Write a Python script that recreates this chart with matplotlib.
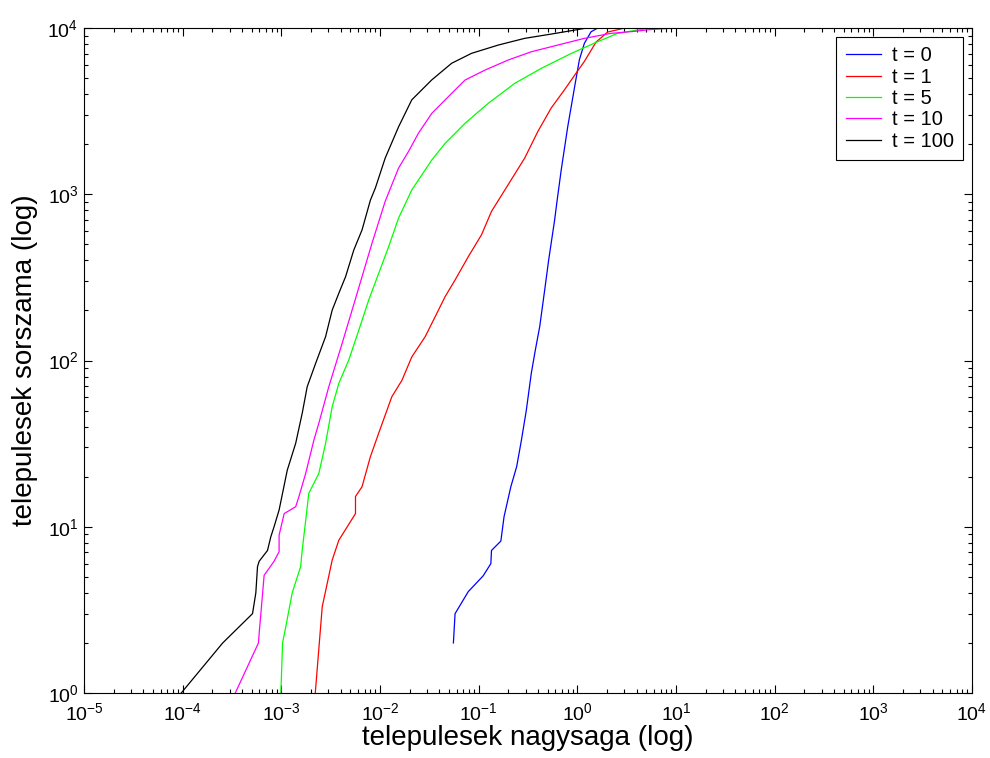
import matplotlib
matplotlib.use('Agg')
import matplotlib.pyplot as plt
from matplotlib.ticker import LogLocator, NullFormatter, FuncFormatter
import numpy as np

plt.rcParams['font.family'] = ['Liberation Sans', 'DejaVu Sans']
plt.rcParams['mathtext.fontset'] = 'custom'
plt.rcParams['mathtext.rm'] = 'Liberation Sans'

# rank-size curves (size, rank)
x_t0 = [0.0555, 0.0577, 0.0785, 0.111, 0.133, 0.135, 0.168, 0.181, 0.212, 0.243,
        0.271, 0.304, 0.342, 0.375, 0.416, 0.467, 0.512, 0.589, 0.625, 0.687,
        0.80, 0.94, 1.05, 1.18, 1.38, 1.61]
y_t0 = [2, 3, 4.07, 5.06, 6.0, 7.2, 8.2, 11.5, 17.4, 23,
        33, 50, 84, 115, 160, 265, 400, 700, 922, 1400,
        2550, 4440, 6450, 8100, 9500, 10000]

x_t1 = [0.00221, 0.0026, 0.00328, 0.00383, 0.00565, 0.00565, 0.00658, 0.0080, 0.0097,
        0.0132, 0.0167, 0.0210, 0.0287, 0.0362, 0.0457, 0.0577, 0.0785, 0.107,
        0.135, 0.199, 0.293, 0.399, 0.544, 0.743, 0.973, 1.18, 1.55, 2.03, 3.0, 4.3]
y_t1 = [1, 3.3, 6.3, 8.3, 12, 15.2, 17.4, 26.4, 36.5,
        60.6, 76, 105, 139, 183, 242, 305, 421, 571,
        789, 1141, 1651, 2391, 3305, 4257, 5360, 6300, 8240, 9460, 9990, 10000]

x_t5 = [0.00099, 0.00103, 0.00111, 0.00129, 0.00157, 0.00163, 0.00177, 0.0019, 0.0024,
        0.00281, 0.00328, 0.00383, 0.00483, 0.0061, 0.00769, 0.0097, 0.01225, 0.01545,
        0.021, 0.0335, 0.0457, 0.0728, 0.125, 0.232, 0.431, 0.866, 1.61, 2.56,
        4.08, 5.14, 6.0]
y_t5 = [1, 2, 2.5, 4, 5.75, 7.25, 11, 15.9, 20.9,
        31.7, 52.7, 72.9, 100.7, 152, 231, 334, 484, 720,
        1061, 1607, 2025, 2672, 3523, 4647, 5718, 7030, 8280, 9290,
        9730, 9950, 10000]

x_t10 = [0.000342, 0.000587, 0.000597, 0.00067, 0.000845, 0.00095, 0.00095, 0.00107,
         0.0014, 0.00151, 0.00177, 0.00214, 0.0024, 0.00303, 0.00414, 0.00522,
         0.00658, 0.0083, 0.0113, 0.01545, 0.0195, 0.0246, 0.0335, 0.0493, 0.0728,
         0.116, 0.199, 0.342, 0.635, 1.18, 2.19, 3.78, 5.56, 9.86]
y_t10 = [1, 2, 2.29, 5.1, 6.2, 7.07, 8.9, 12,
         13.2, 15.2, 21, 33.2, 41.9, 69.5, 127, 201,
         319, 507, 907, 1439, 1812, 2335, 3066, 3863, 4864,
         5586, 6420, 7200, 7900, 8670, 9290, 9550, 9800, 10000]

x_t100 = [0.0000969, 0.000255, 0.000511, 0.000552, 0.000574, 0.000597, 0.000725,
          0.000783, 0.000845, 0.00095, 0.00115, 0.0014, 0.00163, 0.00183, 0.00223,
          0.00281, 0.00328, 0.00383, 0.00448, 0.00543, 0.00658, 0.0080, 0.00898,
          0.0113, 0.01545, 0.021, 0.0335, 0.0533, 0.0848, 0.158, 0.293, 0.544,
          0.866, 1.18, 1.61]
y_t100 = [1, 2, 3, 4, 5.75, 6.2, 7.2,
          8.7, 10, 12.6, 21.9, 31.8, 48.2, 69.5, 96.2,
          139, 201, 254, 319, 462, 610, 922, 1090,
          1651, 2548, 3698, 4877, 6140, 7045, 7900, 8670, 9200,
          9640, 9950, 10000]

series = [
    (x_t0, y_t0, 'blue', 't = 0'),
    (x_t1, y_t1, 'red', 't = 1'),
    (x_t5, y_t5, '#00ff00', 't = 5'),
    (x_t10, y_t10, 'magenta', 't = 10'),
    (x_t100, y_t100, 'black', 't = 100'),
]


def pow_label(v, pos):
    e = int(round(np.log10(v)))
    return r'$\mathregular{10^{%d}}$' % e if e >= 0 else r'$\mathregular{10^{-%d}}$' % -e


fig = plt.figure(figsize=(9.9, 7.58), dpi=100)
ax = fig.add_axes([0.0848, 0.0858, 0.8970, 0.8772])

for xs, ys, color, label in series:
    ax.plot(xs, ys, color=color, linewidth=0.9, label=label)

ax.set_xscale('log')
ax.set_yscale('log')
ax.set_xlim(1e-5, 1e4)
ax.set_ylim(1, 1e4)

ax.xaxis.set_major_locator(LogLocator(base=10, numticks=20))
ax.xaxis.set_minor_locator(LogLocator(base=10, subs=range(2, 10), numticks=20))
ax.xaxis.set_minor_formatter(NullFormatter())
ax.yaxis.set_minor_locator(LogLocator(base=10, subs=range(2, 10), numticks=20))
ax.yaxis.set_minor_formatter(NullFormatter())
ax.xaxis.set_major_formatter(FuncFormatter(pow_label))
ax.yaxis.set_major_formatter(FuncFormatter(pow_label))

ax.tick_params(which='both', direction='in', top=True, right=True, labelsize=14)
ax.tick_params(which='major', length=6, width=0.8)
ax.tick_params(which='minor', length=3, width=0.8)
ax.tick_params(axis='x', pad=7)
ax.tick_params(axis='y', pad=4)

ax.set_xlabel('telepulesek nagysaga (log)', fontsize=20, labelpad=0)
ax.set_ylabel('telepulesek sorszama (log)', fontsize=20, labelpad=7)

leg = ax.legend(loc='upper right', fontsize=14.5, fancybox=False, framealpha=1,
                edgecolor='black', handlelength=1.75, handletextpad=0.55,
                labelspacing=0.12, borderaxespad=0.45, borderpad=0.45)
leg.get_frame().set_linewidth(0.8)

fig.savefig('out.png', dpi=100)
